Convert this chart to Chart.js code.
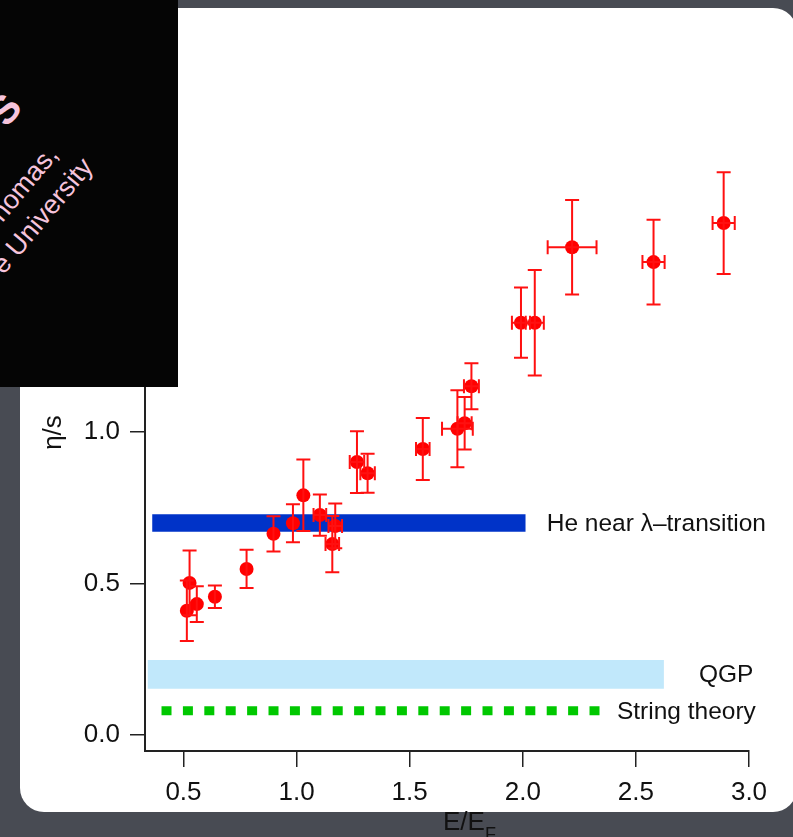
<!DOCTYPE html>
<html><head><meta charset="utf-8">
<script src="https://cdn.jsdelivr.net/npm/chart.js@4/dist/chart.umd.min.js"></script>
<style>
html,body{margin:0;padding:0;width:793px;height:837px;overflow:hidden;background:#484b53;}
#panel{position:absolute;left:20px;top:8px;width:777px;height:804px;background:#fff;border-radius:24px;}
#wrap{position:absolute;left:0;top:0;width:793px;height:837px;}
#badge{position:absolute;left:0;top:0;width:178px;height:387px;background:#050505;overflow:hidden;}
.ln{position:absolute;left:0;top:0;white-space:nowrap;color:#f6c4dc;font-family:"Liberation Sans",Arial,sans-serif;transform-origin:0 0;line-height:1;}
</style></head>
<body>
<div id="panel"></div>
<div id="wrap"><canvas id="c" width="793" height="837"></canvas></div>
<div id="badge">
  <div class="ln" style="font-size:40px;font-weight:bold;transform:translate(24px,108px) rotate(-50deg) translate(-100%,-34px);">S</div>
  <div class="ln" style="font-size:27px;transform:translate(60px,156px) rotate(-50deg) translate(-100%,-23px);">homas,</div>
  <div class="ln" style="font-size:27px;transform:translate(95px,168px) rotate(-50deg) translate(-100%,-23px);">e University</div>
</div>
<script>
// ---- data ----
const xs    = [0.515,0.527,0.559,0.639,0.779,0.898,0.984,1.030,1.103,1.158,1.171,1.267,1.314,1.558,1.711,1.743,1.773,1.992,2.053,2.218,2.578,2.888];
const ys    = [0.410,0.502,0.432,0.456,0.548,0.664,0.699,0.791,0.726,0.630,0.690,0.901,0.864,0.944,1.011,1.029,1.151,1.361,1.361,1.610,1.561,1.690];
const xErr  = [0,0,0,0,0,0,0,0,0.028,0.030,0.030,0.032,0.032,0.030,0.068,0.031,0.033,0.040,0.040,0.108,0.049,0.049];
const yErr  = [0.100,0.107,0.059,0.037,0.063,0.058,0.063,0.118,0.068,0.093,0.074,0.102,0.064,0.102,0.127,0.087,0.076,0.116,0.174,0.156,0.140,0.168];
const heBandX  = [0.3615, 2.013];
const heBandY  = [0.671, 0.729];
const qgpBandX = [0.341, 2.624];
const qgpBandY = [0.1528, 0.2475];
const stringX  = [0.403, 2.341];
const stringY  = 0.0796;
const xTickVals = [0.5,1.0,1.5,2.0,2.5,3.0];
const yTickVals = [0.0,0.5,1.0,1.5,2.0];
const labels = {he:'He near λ–transition', qgp:'QGP', str:'String theory', yTitle:'η/s', xTitle:'E/E', xSub:'F'};

const FONT = '"Liberation Sans", Arial, Helvetica, sans-serif';

const errorBars = {
  id:'errorBars',
  afterDatasetsDraw(chart){
    const {ctx, scales:{x, y}} = chart;
    ctx.save();
    ctx.strokeStyle = '#ff1010';
    ctx.lineWidth = 2;
    const cap = 7;
    for (let i=0;i<xs.length;i++){
      const px = x.getPixelForValue(xs[i]), py = y.getPixelForValue(ys[i]);
      const y1 = y.getPixelForValue(ys[i]+yErr[i]), y2 = y.getPixelForValue(ys[i]-yErr[i]);
      ctx.beginPath();
      ctx.moveTo(px,y1); ctx.lineTo(px,y2);
      ctx.moveTo(px-cap,y1); ctx.lineTo(px+cap,y1);
      ctx.moveTo(px-cap,y2); ctx.lineTo(px+cap,y2);
      if (xErr[i]>0){
        const x1 = x.getPixelForValue(xs[i]-xErr[i]), x2 = x.getPixelForValue(xs[i]+xErr[i]);
        ctx.moveTo(x1,py); ctx.lineTo(x2,py);
        ctx.moveTo(x1,py-cap); ctx.lineTo(x1,py+cap);
        ctx.moveTo(x2,py-cap); ctx.lineTo(x2,py+cap);
      }
      ctx.stroke();
    }
    ctx.restore();
  }
};

const annotations = {
  id:'annotations',
  afterDraw(chart){
    const {ctx, scales:{x, y}} = chart;
    ctx.save();
    ctx.fillStyle = '#111';
    ctx.textAlign = 'left';
    ctx.textBaseline = 'middle';
    ctx.font = '24.5px ' + FONT;
    ctx.fillText(labels.he, x.getPixelForValue(heBandX[1]) + 21, y.getPixelForValue((heBandY[0]+heBandY[1])/2) + 1);
    ctx.fillText(labels.qgp, x.getPixelForValue(qgpBandX[1]) + 35, y.getPixelForValue((qgpBandY[0]+qgpBandY[1])/2) + 1);
    ctx.fillText(labels.str, x.getPixelForValue(stringX[1]) + 17, y.getPixelForValue(stringY) + 1);
    // x axis title with subscript
    ctx.textBaseline = 'alphabetic';
    ctx.font = '26px ' + FONT;
    const tx = (x.left + x.right)/2 - 4;
    ctx.fillText(labels.xTitle, tx, 830);
    const w = ctx.measureText(labels.xTitle).width;
    ctx.font = '18px ' + FONT;
    ctx.fillText(labels.xSub, tx + w, 840);
    ctx.restore();
  }
};

new Chart(document.getElementById('c'), {
  type:'scatter',
  data:{
    datasets:[
      {type:'line', label:'QGP low', data: qgpBandX.map(v=>({x:v, y:qgpBandY[0]})), borderColor:'rgba(0,0,0,0)', borderWidth:0, pointRadius:0, fill:false, order:5},
      {type:'line', label:'QGP', data: qgpBandX.map(v=>({x:v, y:qgpBandY[1]})), borderColor:'rgba(0,0,0,0)', borderWidth:0, pointRadius:0, fill:'-1', backgroundColor:'#c1e8fb', order:5},
      {type:'line', label:'He low', data: heBandX.map(v=>({x:v, y:heBandY[0]})), borderColor:'rgba(0,0,0,0)', borderWidth:0, pointRadius:0, fill:false, order:4},
      {type:'line', label:'He near λ–transition', data: heBandX.map(v=>({x:v, y:heBandY[1]})), borderColor:'rgba(0,0,0,0)', borderWidth:0, pointRadius:0, fill:'-1', backgroundColor:'#0033c8', order:4},
      {type:'line', label:'String theory', data: stringX.map(v=>({x:v, y:stringY})), borderColor:'#00c800', borderWidth:9, borderDash:[10,11.4], pointRadius:0, fill:false, order:3},
      {type:'scatter', label:'η/s data', data: xs.map((v,i)=>({x:v, y:ys[i]})), backgroundColor:'#ff0000', borderColor:'#ff0000', borderWidth:0, pointRadius:7, pointHoverRadius:7, order:1}
    ]
  },
  options:{
    responsive:false, animation:false, devicePixelRatio:1,
    layout:{padding:{left:0, right:44, top:114, bottom:0}},
    plugins:{legend:{display:false}, tooltip:{enabled:false}},
    scales:{
      x:{type:'linear', min:0.33, max:3.0,
        afterBuildTicks:s=>{ s.ticks = xTickVals.map(v=>({value:v})); },
        afterFit:s=>{ s.height = 86; },
        ticks:{callback:v=>Number(v).toFixed(1), font:{size:26, family:FONT}, color:'#111', padding:10, maxRotation:0, autoSkip:false},
        grid:{display:true, drawOnChartArea:false, drawTicks:true, tickLength:16, color:'#222', lineWidth:1.5},
        border:{display:true, color:'#222', width:2}
      },
      y:{type:'linear', min:-0.053, max:2.05,
        afterBuildTicks:s=>{ s.ticks = yTickVals.map(v=>({value:v})); },
        afterFit:s=>{ s.width = 145; },
        ticks:{callback:v=>Number(v).toFixed(1), font:{size:26, family:FONT}, color:'#111', padding:10, autoSkip:false},
        grid:{display:true, drawOnChartArea:false, drawTicks:true, tickLength:15, color:'#222', lineWidth:1.5},
        border:{display:true, color:'#222', width:2},
        title:{display:true, text:labels.yTitle, font:{size:26, family:FONT}, color:'#111', padding:{top:38, bottom:0}}
      }
    }
  },
  plugins:[errorBars, annotations]
});
</script>
</body></html>
